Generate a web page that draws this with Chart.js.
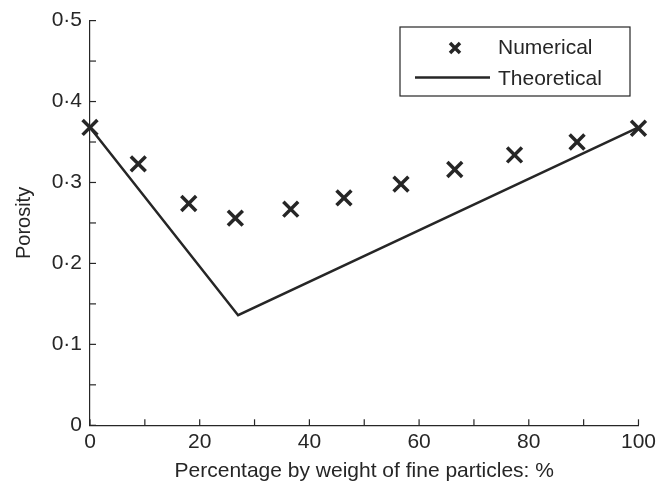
<!DOCTYPE html>
<html>
<head>
<meta charset="utf-8">
<script src="https://cdn.jsdelivr.net/npm/chart.js@4.4.1/dist/chart.umd.min.js"></script>
<style>
  html, body { margin: 0; padding: 0; background: #fff; }
  #wrap { width: 660px; height: 490px; }
</style>
</head>
<body>
<div id="wrap"><canvas id="porosityChart"></canvas></div>
<script>
// fine particle content (% by weight) and porosity
const numericalX = [0, 8.8, 18, 26.5, 36.6, 46.3, 56.7, 66.5, 77.4, 88.8, 100];
const numericalY = [0.368, 0.323, 0.274, 0.256, 0.267, 0.281, 0.298, 0.316, 0.334, 0.350, 0.367];
const theoreticalX = [0, 27, 100];
const theoreticalY = [0.368, 0.136, 0.368];
const xTickLabels = ['0', '20', '40', '60', '80', '100'];
const yTickLabels = ['0', '0·1', '0·2', '0·3', '0·4', '0·5'];

const ink = '#262626';
const family = 'Liberation Sans, Arial, sans-serif';
const font = { family: family, size: 21 };

// inward tick marks on the two axes
const innerTicks = {
  id: 'innerTicks',
  afterDraw(chart) {
    const c = chart.ctx;
    const xs = chart.scales.x, ys = chart.scales.y;
    c.save();
    c.strokeStyle = ink;
    c.lineWidth = 1.2;
    xs.ticks.forEach((t, i) => {
      const px = xs.getPixelForTick(i);
      c.beginPath(); c.moveTo(px, ys.bottom); c.lineTo(px, ys.bottom - 6); c.stroke();
    });
    ys.ticks.forEach((t, i) => {
      const py = ys.getPixelForTick(i);
      c.beginPath(); c.moveTo(xs.left, py); c.lineTo(xs.left + 6, py); c.stroke();
    });
    c.restore();
  }
};

// boxed legend in the upper right corner
const boxLegend = {
  id: 'boxLegend',
  afterDraw(chart) {
    const c = chart.ctx;
    const x0 = 400, y0 = 27, w = 230, h = 69;
    c.save();
    c.fillStyle = '#fff';
    c.fillRect(x0, y0, w, h);
    c.strokeStyle = ink;
    c.lineWidth = 1.2;
    c.strokeRect(x0, y0, w, h);
    // cross marker
    c.lineWidth = 3.5;
    c.beginPath();
    c.moveTo(450, 43); c.lineTo(460, 53);
    c.moveTo(460, 43); c.lineTo(450, 53);
    c.stroke();
    // line sample
    c.lineWidth = 2.5;
    c.beginPath(); c.moveTo(415, 77.5); c.lineTo(490, 77.5); c.stroke();
    c.fillStyle = ink;
    c.font = font.size + 'px ' + family;
    c.textBaseline = 'middle';
    chart.data.datasets.forEach((ds, i) => {
      c.fillText(ds.label, 498, i === 0 ? 48 : 79);
    });
    c.restore();
  }
};

const toPoints = (xs, ys) => xs.map((x, i) => ({ x: x, y: ys[i] }));

new Chart(document.getElementById('porosityChart'), {
  type: 'scatter',
  data: {
    datasets: [{
      label: 'Numerical',
      data: toPoints(numericalX, numericalY),
      showLine: false,
      clip: false,
      pointStyle: 'crossRot',
      pointRadius: 10.5,
      pointBorderWidth: 3.5,
      borderColor: ink,
      backgroundColor: ink
    }, {
      label: 'Theoretical',
      data: toPoints(theoreticalX, theoreticalY),
      showLine: true,
      clip: false,
      pointRadius: 0,
      borderWidth: 2.5,
      borderColor: ink,
      tension: 0
    }]
  },
  options: {
    responsive: true,
    maintainAspectRatio: false,
    animation: false,
    layout: { padding: { top: 14, right: 17.5, left: 0, bottom: 0 } },
    plugins: {
      legend: { display: false },
      tooltip: { enabled: false }
    },
    scales: {
      x: {
        type: 'linear',
        min: 0, max: 100,
        afterFit: (s) => { s.height = 64.7; },
        border: { display: true, color: ink, width: 1.2 },
        grid: { display: false, drawTicks: false },
        ticks: {
          stepSize: 10,
          autoSkip: false,
          maxRotation: 0,
          padding: 4,
          color: ink,
          font: font,
          callback: (v) => (v % 20 === 0 ? xTickLabels[v / 20] : '')
        },
        title: {
          display: true,
          text: 'Percentage by weight of fine particles: %',
          color: ink,
          font: { family: family, size: 21 },
          padding: { top: 0, bottom: 6 }
        }
      },
      y: {
        type: 'linear',
        min: 0, max: 0.5,
        afterFit: (s) => { s.width = 90; },
        border: { display: true, color: ink, width: 1.2 },
        grid: { display: false, drawTicks: false },
        ticks: {
          stepSize: 0.05,
          autoSkip: false,
          padding: 8,
          color: ink,
          font: font,
          callback: (v) => {
            const k = Math.round(v * 20);
            return k % 2 === 0 ? yTickLabels[k / 2] : '';
          }
        },
        title: {
          display: true,
          text: 'Porosity',
          color: ink,
          font: { family: family, size: 20 },
          padding: { top: 12, bottom: 0 }
        }
      }
    }
  },
  plugins: [innerTicks, boxLegend]
});
</script>
</body>
</html>
